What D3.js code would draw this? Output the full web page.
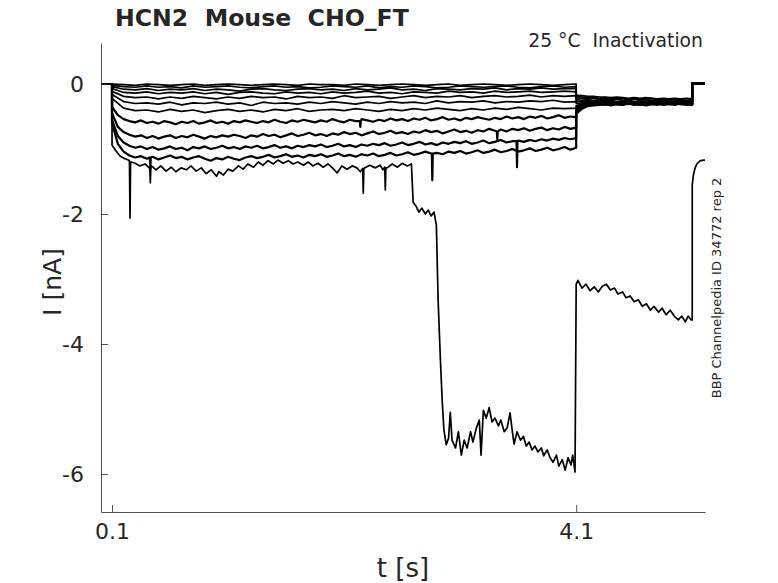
<!DOCTYPE html>
<html>
<head>
<meta charset="utf-8">
<script src="https://cdn.jsdelivr.net/npm/d3@7"></script>
<style>
  body { margin: 0; background: #fff; }
  text { font-family: "DejaVu Sans", sans-serif; fill: #262626; }
</style>
</head>
<body>
<svg id="chart" width="778" height="583"></svg>
<script>
// ---- data ----
const xTicks = [0.1, 4.1];
const yTicks = [0, -2, -4, -6];
const tStart = 0.005, stepOn = 0.1, stepOff = 4.1, testOff = 5.1, tEnd = 5.21;

// small sweeps, current in 0.01 nA
// pre* spread evenly over the conditioning step (0.1 - 4.1 s), test* over the test step (4.1 - 5.1 s)
const preT1 = [0,-1,-2,0,-1,-2,-1,0,-2,-1,0,-1,-2,-1,0,-1,-2,0,-1,-1,-2,0,-1,-2,-1,0,-1,-2,-1,0,-2,-1,0,-1,-2,-1,0,-1,-2,-1,0];
const preT2 = [-2,-4,-5,-3,-5,-4,-6,-3,-5,-4,-3,-5,-6,-4,-3,-5,-4,-6,-5,-3,-4,-5,-3,-6,-4,-5,-3,-4,-6,-5,-3,-4,-5,-4,-3,-5,-6,-4,-3,-5,-4];
const preT3 = [-4,-8,-9,-7,-10,-8,-9,-7,-10,-8,-9,-11,-8,-7,-9,-10,-8,-7,-9,-8,-10,-7,-9,-8,-6,-9,-8,-10,-7,-8,-9,-7,-8,-6,-9,-7,-8,-6,-8,-7,-7];
const preT4 = [-7,-13,-14,-12,-15,-13,-14,-12,-15,-13,-16,-13,-12,-14,-15,-12,-14,-13,-15,-12,-14,-13,-11,-14,-13,-15,-12,-13,-14,-11,-13,-12,-14,-11,-13,-12,-11,-13,-12,-11,-12];
const preT5 = [-11,-19,-21,-20,-23,-20,-22,-19,-21,-23,-20,-22,-19,-21,-20,-23,-19,-21,-20,-22,-18,-21,-20,-19,-22,-20,-18,-21,-19,-20,-18,-21,-19,-18,-20,-19,-17,-20,-18,-19,-18];
const preT6 = [-16,-27,-30,-29,-31,-28,-32,-29,-30,-28,-31,-29,-33,-28,-30,-29,-31,-28,-30,-27,-29,-31,-28,-30,-27,-29,-28,-30,-26,-29,-27,-28,-26,-29,-27,-28,-26,-27,-25,-28,-27];
const preT7 = [-22,-37,-41,-40,-43,-39,-42,-40,-44,-41,-39,-42,-40,-43,-39,-41,-38,-42,-40,-39,-41,-38,-40,-42,-39,-41,-38,-40,-37,-39,-41,-38,-40,-37,-39,-36,-38,-40,-37,-38,-37];
const preA = [-35,-48,-54,-57,-59,-56,-60,-58,-61,-57,-59,-62,-58,-60,-57,-61,-59,-56,-60,-58,-61,-57,-59,-56,-58,-60,-57,-59,-55,-58,-60,-56,-58,-55,-57,-59,-56,-58,-54,-57,-59,-55,-57,-54,-56,-58,-55,-57,-53,-56,-54,-57,-53,-55,-52,-56,-54,-51,-55,-53,-56,-52,-54,-51,-53,-55,-52,-54,-50,-53,-51,-54,-50,-52,-49,-53,-51,-48,-52,-50,-51];
const preB = [-45,-66,-74,-78,-81,-79,-83,-80,-84,-81,-79,-83,-80,-82,-78,-81,-84,-80,-82,-79,-81,-78,-80,-83,-79,-81,-77,-80,-78,-82,-79,-76,-80,-78,-75,-79,-77,-80,-76,-78,-74,-77,-75,-79,-76,-73,-77,-75,-72,-76,-74,-77,-73,-75,-71,-74,-72,-76,-73,-70,-74,-72,-75,-71,-73,-69,-72,-70,-73,-69,-71,-68,-72,-69,-67,-71,-68,-70,-66,-69,-67];
const preC = [-55,-80,-90,-95,-98,-96,-100,-97,-101,-99,-96,-100,-98,-102,-97,-99,-96,-100,-98,-95,-99,-97,-100,-96,-98,-95,-99,-97,-94,-98,-96,-99,-95,-97,-94,-96,-93,-97,-95,-92,-96,-94,-97,-93,-95,-92,-94,-91,-95,-93,-90,-94,-92,-89,-93,-91,-94,-90,-92,-89,-91,-88,-92,-90,-87,-91,-89,-86,-90,-88,-87,-89,-86,-88,-85,-87,-84,-86,-83,-85,-83];
const preD = [-60,-92,-104,-110,-113,-111,-115,-112,-116,-113,-110,-114,-112,-116,-113,-111,-115,-118,-114,-116,-112,-115,-117,-113,-111,-114,-112,-109,-113,-111,-108,-112,-110,-113,-109,-111,-108,-112,-110,-107,-111,-109,-112,-108,-110,-107,-111,-109,-106,-110,-108,-105,-109,-107,-104,-107,-106,-108,-104,-106,-103,-107,-105,-102,-106,-104,-101,-105,-103,-100,-104,-102,-99,-103,-101,-98,-102,-100,-97,-101,-98];

const testT1 = [-17,-18,-19,-19,-20,-20,-21,-20,-21,-22,-21,-22,-21,-22,-23,-22,-23,-22,-23,-22,-23];
const testT2 = [-19,-20,-21,-20,-22,-21,-22,-23,-22,-23,-22,-24,-23,-22,-24,-23,-24,-23,-24,-25,-24];
const testT3 = [-21,-22,-23,-22,-24,-23,-24,-23,-25,-24,-23,-25,-24,-25,-24,-26,-25,-24,-25,-26,-25];
const testT4 = [-24,-25,-24,-26,-25,-26,-25,-27,-26,-25,-27,-26,-27,-26,-25,-27,-26,-27,-26,-27,-26];
const testT5 = [-27,-27,-26,-28,-27,-26,-28,-27,-28,-26,-27,-28,-27,-26,-28,-27,-28,-27,-26,-28,-27];
const testT6 = [-30,-29,-28,-29,-28,-30,-28,-29,-27,-29,-28,-27,-29,-28,-27,-29,-28,-29,-27,-28,-28];
const testT7 = [-33,-31,-30,-29,-30,-28,-30,-29,-28,-30,-29,-28,-29,-30,-28,-29,-28,-29,-30,-28,-29];
const testA = [-36,-32,-30,-31,-29,-30,-28,-30,-29,-31,-29,-30,-28,-30,-29,-28,-30,-29,-31,-29,-30];
const testB = [-40,-34,-32,-31,-30,-31,-29,-31,-30,-29,-31,-30,-29,-31,-30,-29,-30,-31,-29,-30,-31];
const testC = [-43,-36,-33,-32,-31,-32,-30,-31,-32,-30,-31,-32,-30,-31,-30,-32,-31,-30,-31,-32,-31];
const testD = [-46,-38,-34,-33,-32,-31,-33,-31,-32,-30,-32,-31,-33,-31,-32,-30,-31,-32,-30,-31,-32];
const afterTest = 0.01; // nA, level after the test step

// brief spikes on the small sweeps: sweep index, time (s), level around it and peak (nA)
const spikeSweep = [9, 10, 7, 8, 10];
const spikeT = [3.59, 2.86, 2.24, 3.42, 0.43];
const spikeBase = [-0.88, -1.07, -0.57, -0.73, -1.13];
const spikePeak = [-1.28, -1.48, -0.66, -0.85, -1.3];

// the one large sweep: time (s) and current (nA)
const bigT = [0.005,0.1,0.1,0.13,0.17,0.2,0.24,0.25,0.255,0.26,0.265,0.3,0.34,0.385,0.42,0.425,0.43,0.435,0.44,0.48,0.52,0.565,0.61,0.65,0.695,0.74,0.78,0.825,0.87,0.91,0.955,1.0,1.02,1.06,1.1,1.14,1.19,1.23,1.27,1.32,1.36,1.4,1.445,1.49,1.53,1.575,1.62,1.66,1.7,1.75,1.79,1.83,1.875,1.92,1.96,2.0,2.04,2.08,2.125,2.17,2.21,2.24,2.26,2.265,2.27,2.28,2.32,2.37,2.41,2.435,2.45,2.455,2.46,2.47,2.515,2.56,2.6,2.645,2.68,
  2.695,2.72,2.745,2.77,2.8,2.825,2.85,2.875,2.895,2.91,2.93,2.945,2.96,2.98,3.0,3.015,3.03,3.06,3.085,3.11,3.135,3.16,3.19,3.21,3.24,3.265,3.28,3.3,3.325,3.35,3.375,3.4,3.43,3.45,3.48,3.505,3.53,3.55,3.565,3.59,3.62,3.645,3.67,3.695,3.72,3.745,3.77,3.8,3.82,3.85,3.875,3.9,3.93,3.95,3.98,4.005,4.03,4.055,4.07,4.09,
  4.1,4.115,4.15,4.185,4.22,4.255,4.29,4.325,4.36,4.395,4.43,4.46,4.5,4.53,4.565,4.6,4.635,4.67,4.705,4.74,4.77,4.81,4.84,4.875,4.91,4.945,4.98,5.01,5.04,5.065,5.09,5.1,5.1,5.11,5.125,5.14,5.17,5.2,5.21];
const bigI = [0,0,-0.94,-1.02,-1.11,-1.14,-1.17,-1.18,-2.06,-1.2,-1.2,-1.22,-1.26,-1.23,-1.29,-1.28,-1.52,-1.27,-1.26,-1.32,-1.26,-1.34,-1.28,-1.35,-1.29,-1.32,-1.26,-1.34,-1.29,-1.38,-1.32,-1.42,-1.35,-1.4,-1.31,-1.34,-1.26,-1.31,-1.23,-1.28,-1.2,-1.25,-1.18,-1.23,-1.17,-1.22,-1.18,-1.23,-1.2,-1.25,-1.2,-1.26,-1.22,-1.28,-1.23,-1.29,-1.37,-1.26,-1.31,-1.26,-1.29,-1.35,-1.3,-1.68,-1.3,-1.29,-1.25,-1.29,-1.25,-1.32,-1.28,-1.63,-1.29,-1.29,-1.23,-1.28,-1.22,-1.26,-1.23,
  -1.82,-1.88,-1.97,-1.91,-2.0,-1.94,-2.03,-1.97,-2.17,-3.32,-4.25,-4.86,-5.32,-5.55,-5.45,-5.05,-5.48,-5.6,-5.35,-5.71,-5.48,-5.6,-5.35,-5.51,-5.29,-5.17,-5.71,-5.02,-5.14,-4.98,-5.2,-5.14,-5.26,-5.17,-5.35,-5.29,-5.06,-5.35,-5.54,-5.35,-5.48,-5.42,-5.57,-5.51,-5.63,-5.57,-5.66,-5.6,-5.72,-5.63,-5.75,-5.82,-5.71,-5.88,-5.78,-5.94,-5.75,-5.86,-5.71,-5.97,
  -3.08,-3.02,-3.14,-3.08,-3.18,-3.12,-3.2,-3.11,-3.08,-3.17,-3.14,-3.23,-3.2,-3.29,-3.26,-3.35,-3.32,-3.42,-3.38,-3.48,-3.42,-3.51,-3.45,-3.55,-3.48,-3.57,-3.63,-3.57,-3.66,-3.57,-3.63,-3.63,-1.55,-1.4,-1.29,-1.23,-1.18,-1.17,-1.17];

const smallPre = [preT1, preT2, preT3, preT4, preT5, preT6, preT7, preA, preB, preC, preD];
const smallTest = [testT1, testT2, testT3, testT4, testT5, testT6, testT7, testA, testB, testC, testD];

// ---- chart ----
const svg = d3.select("#chart");
const x = d3.scaleLinear().domain([tStart, tEnd]).range([101, 705]);
const y = d3.scaleLinear().domain([0.631, -6.585]).range([43, 512]);

function sweepPoints(pre, test, k) {
    let pts = [[tStart, 0], [stepOn, 0]];
    pre.forEach((v, i) => pts.push([stepOn + i * (stepOff - stepOn) / (pre.length - 1), v / 100]));
    test.forEach((v, i) => pts.push([stepOff + i * (testOff - stepOff) / (test.length - 1), v / 100]));
    pts.push([testOff, afterTest], [tEnd, afterTest]);
    // narrow spikes
    spikeSweep.forEach((s, j) => {
        if (s !== k) return;
        pts.push([spikeT[j] - 0.004, spikeBase[j]], [spikeT[j], spikePeak[j]], [spikeT[j] + 0.004, spikeBase[j]]);
    });
    // stable sort keeps vertical steps in order
    return pts.map((p, i) => [p[0], p[1], i]).sort((a, b) => a[0] - b[0] || a[2] - b[2]);
}

const line = d3.line().x(d => x(d[0])).y(d => y(d[1]));

const sweeps = smallPre.map((p, i) => sweepPoints(p, smallTest[i], i));

svg.append("g").selectAll("path")
    .data(sweeps)
    .join("path")
    .attr("d", line)
    .attr("fill", "none")
    .attr("stroke", "black")
    .attr("stroke-width", (d, i) => i < 7 ? 1.7 : 2.2)
    .attr("stroke-linejoin", "round");

svg.append("path")
    .attr("d", line(bigT.map((t, i) => [t, bigI[i]])))
    .attr("fill", "none")
    .attr("stroke", "black")
    .attr("stroke-width", 1.7)
    .attr("stroke-linejoin", "round");

// axes
const xAxis = d3.axisBottom(x).tickValues(xTicks).tickFormat(d3.format(".1f"))
    .tickSizeInner(-7).tickSizeOuter(0).tickPadding(11);
const yAxis = d3.axisLeft(y).tickValues(yTicks).tickFormat(d => d)
    .tickSizeInner(-7).tickSizeOuter(0).tickPadding(17);

const gx = svg.append("g").attr("transform", "translate(0,512)").call(xAxis);
const gy = svg.append("g").attr("transform", "translate(101,0)").call(yAxis);
[gx, gy].forEach(g => {
    g.select(".domain").attr("stroke", "#262626").attr("stroke-width", 0.8);
    g.selectAll(".tick line").attr("stroke", "#262626").attr("stroke-width", 0.8);
    g.selectAll(".tick text").attr("font-size", 22).attr("font-family", "DejaVu Sans").attr("fill", "#262626");
});

// labels
svg.append("text").attr("x", 115).attr("y", 26)
    .attr("font-size", 23.6).attr("font-weight", "bold").style("white-space", "pre")
    .attr("fill", "#000")
    .text("HCN2  Mouse  CHO_FT");

svg.append("text").attr("x", 703).attr("y", 47).attr("text-anchor", "end")
    .attr("font-size", 18.8).style("white-space", "pre").attr("fill", "#000")
    .text("25 °C  Inactivation");

svg.append("text").attr("x", 403).attr("y", 577).attr("text-anchor", "middle")
    .attr("font-size", 26).text("t [s]");

svg.append("text").attr("transform", "translate(61,282) rotate(-90)").attr("text-anchor", "middle")
    .attr("font-size", 25).text("I [nA]");

svg.append("text").attr("transform", "translate(721,288) rotate(-90)").attr("text-anchor", "middle")
    .attr("font-size", 13).attr("fill", "#000").text("BBP Channelpedia ID 34772 rep 2");
</script>
</body>
</html>
